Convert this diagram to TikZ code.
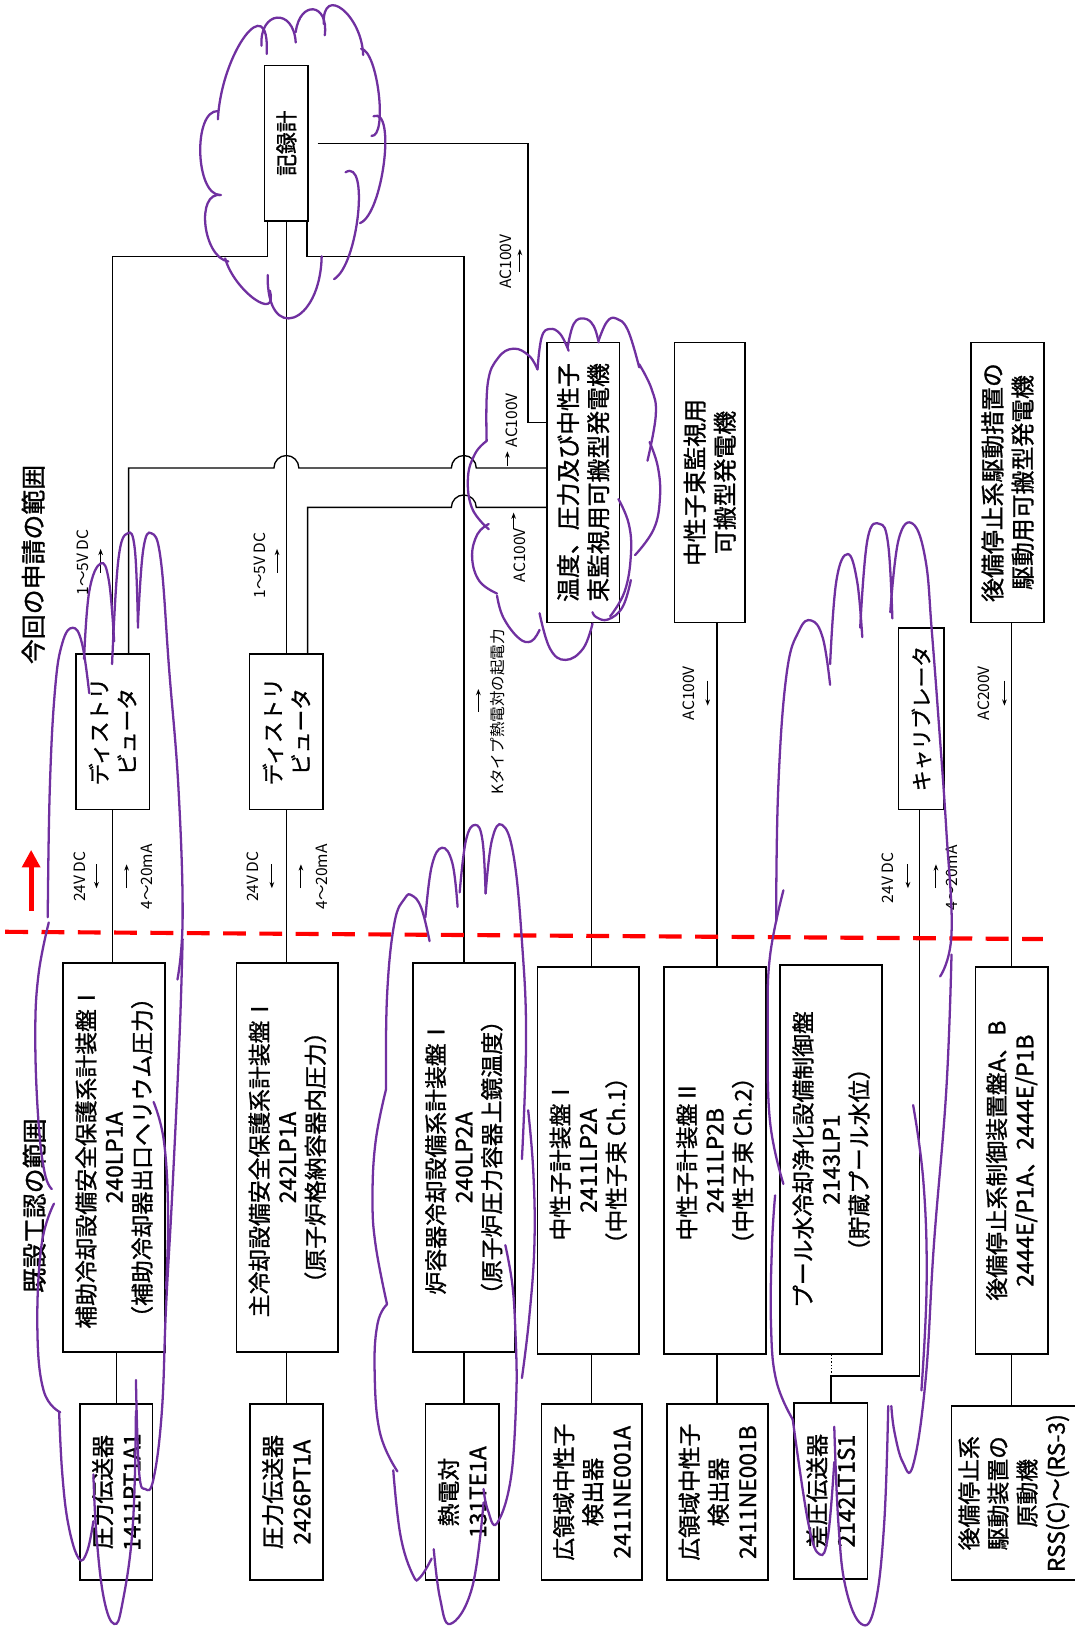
\documentclass[tikz,border=0pt]{standalone}
\usepackage{fontspec}
\setmainfont{Noto Sans CJK JP}
\newfontfamily\boxfont{Noto Sans CJK JP}[FakeBold=1.2]
\usetikzlibrary{arrows.meta,calc}
\definecolor{cloudpurple}{HTML}{7030A0}
\newcommand\bump[3]{\draw[cloudline] (#1) .. controls ($0.3333*(#1)+1.3333*(#2)-0.6667*(#3)$) and ($0.3333*(#3)+1.3333*(#2)-0.6667*(#1)$) .. (#3);}
\newcommand\cl[1]{\draw[cloudline] plot[smooth, tension=0.7] coordinates {#1};}
\begin{document}
\begin{tikzpicture}[x=1pt,y=-1pt,
  box/.style={draw, fill=white, line width=1.6pt, rotate=90, inner sep=2pt, outer sep=0pt, align=center},
  conn/.style={line width=1.3pt},
  cloudline/.style={draw=cloudpurple, line width=2.2pt, line cap=round},
  sarrow/.style={line width=1pt, -{Stealth[length=6pt,width=4.5pt]}},
  lbl/.style={rotate=90, font=\fontsize{15}{17}\selectfont, inner sep=0pt},
  pfont/.style={font=\boxfont\fontsize{22}{27}\selectfont},
  sfont/.style={font=\boxfont\fontsize{22}{28}\selectfont},
  gfont/.style={font=\boxfont\fontsize{23}{29}\selectfont},
]
\useasboundingbox (0,0) rectangle (1036,1568);
\clip (0,0) rectangle (1036,1568);
\fill[white] (0,0) rectangle (1036,1568);

% ---------- helper coordinates
\coordinate (bus) at (0,247);
\coordinate (g1in) at (527,407);
\coordinate (acv) at (509,0);
\coordinate (j6) at (801,1326);

% ---------- connectors (drawn first)
\draw[conn] (258,213) -- (258,247) -| (108.5,630);
\draw[conn] (276,213) -- (276,630);
\draw[conn] (296,213) -- (296,247) -| (447,928);
\draw[conn] (306,138) -| (509,407) -- (527,407);
\draw[conn] (124,630) -- (124,451) -- (264,451) arc[start angle=180,end angle=0,radius=12pt] -- (435,451) arc[start angle=180,end angle=0,radius=12pt] -- (527,451);
\draw[conn] (296.5,630) -- (296.5,489) -- (435,489) arc[start angle=180,end angle=0,radius=12pt] -- (527,489);
\draw[conn] (108.5,780) -- (108.5,928);
\draw[conn] (276,780) -- (276,928);
\draw[conn] (112,1303) -- (112,1353);
\draw[conn] (276,1303) -- (276,1353);
\draw[conn] (447,1303) -- (447,1353);
\draw[conn] (570,600) -- (570,932);
\draw[conn] (570,1305) -- (570,1353);
\draw[conn] (691,600) -- (691,932);
\draw[conn] (691,1305) -- (691,1353);
\draw[conn] (975,600) -- (975,932);
\draw[conn] (975,1305) -- (975,1355);
\draw[conn] (801,1352) -- (801,1326) -| (886,780);
\draw[line width=1.2pt, dotted] (801,1326) -- (801,1305);

% ---------- boxes
\node[box, minimum width=150pt, minimum height=42pt, font=\boxfont\fontsize{21}{26}\selectfont] (kiroku) at (276,138) {記録計};
\node[box, minimum width=150pt, minimum height=71pt, font=\boxfont\fontsize{21}{27}\selectfont] (dist1) at (108.5,705) {ディストリ\\ビュータ};
\node[box, minimum width=150pt, minimum height=71pt, font=\boxfont\fontsize{21}{27}\selectfont] (dist2) at (276,705) {ディストリ\\ビュータ};
\node[box, gfont, minimum width=270pt, minimum height=70pt] (gen1) at (562,465) {温度、圧力及び中性子\\束監視用可搬型発電機};
\node[box, gfont, minimum width=270pt, minimum height=68pt] (gen2) at (684,465) {中性子束監視用\\可搬型発電機};
\node[box, gfont, minimum width=270pt, minimum height=70pt] (gen3) at (971,465) {後備停止系駆動措置の\\駆動用可搬型発電機};
\node[box, minimum width=175pt, minimum height=44pt, font=\boxfont\fontsize{20}{24}\selectfont] (cal) at (888,692.5) {キャリブレータ};

\node[box, pfont, minimum width=375pt, minimum height=98pt] (p1) at (110,1115.5) {補助冷却設備安全保護系計装盤Ⅰ\\240LP1A\\（補助冷却器出口ヘリウム圧力）};
\node[box, pfont, minimum width=375pt, minimum height=98pt] (p2) at (277,1115.5) {主冷却設備安全保護系計装盤Ⅰ\\242LP1A\\（原子炉格納容器内圧力）};
\node[box, pfont, minimum width=375pt, minimum height=98pt] (p3) at (447,1115.5) {炉容器冷却設備系計装盤Ⅰ\\240LP2A\\（原子炉圧力容器上鏡温度）};
\node[box, pfont, minimum width=373pt, minimum height=98pt] (p4) at (567,1118.5) {中性子計装盤Ⅰ\\2411LP2A\\（中性子束 Ch.1）};
\node[box, pfont, minimum width=373pt, minimum height=98pt] (p5) at (689,1118.5) {中性子計装盤Ⅱ\\2411LP2B\\（中性子束 Ch.2）};
\node[box, pfont, minimum width=375pt, minimum height=98pt] (p6) at (801,1117.5) {プール水冷却浄化設備制御盤\\2143LP1\\（貯蔵プール水位）};
\node[box, pfont, minimum width=373pt, minimum height=70pt] (p7) at (975,1118.5) {後備停止系制御装置盤A、B\\2444E/P1A、2444E/P1B};

\node[box, sfont, minimum width=170pt, minimum height=70pt] (s1) at (112,1438) {圧力伝送器\\1411PT1A1};
\node[box, sfont, minimum width=170pt, minimum height=70pt] (s2) at (276,1438) {圧力伝送器\\2426PT1A};
\node[box, sfont, minimum width=170pt, minimum height=71pt] (s3) at (445.5,1438) {熱電対\\131TE1A};
\node[box, sfont, minimum width=170pt, minimum height=97pt] (s4) at (570.5,1438) {広領域中性子\\検出器\\2411NE001A};
\node[box, sfont, minimum width=170pt, minimum height=97pt] (s5) at (691.5,1438) {広領域中性子\\検出器\\2411NE001B};
\node[box, sfont, minimum width=170pt, minimum height=71pt] (s6) at (800.5,1437) {差圧伝送器\\2142LT1S1};
\node[box, sfont, minimum width=168pt, minimum height=120pt] (s7) at (977,1439) {後備停止系\\駆動装置の\\原動機\\RSS(C)〜(RS-3)};

% ---------- titles
\node[rotate=90, font=\boxfont\fontsize{24}{24}\selectfont] (t1) at (32,544) {今回の申請の範囲};
\node[rotate=90, font=\boxfont\fontsize{24}{24}\selectfont] (t2) at (33,1162) {既設工認の範囲};

% ---------- labels
\node[lbl] (l1) at (80,542) {1〜5V DC}; \draw[sarrow] (97,552) -- (97,529);
\node[lbl] (l2) at (250,545) {1〜5V DC}; \draw[sarrow] (267,552) -- (267,529);
\node[lbl] (l3) at (77,845) {24V DC}; \draw[sarrow] (93,833) -- (93,856);
\node[lbl] (l4) at (142,845) {4〜20mA}; \draw[sarrow] (122,856) -- (122,833);
\node[lbl] (l5) at (244,845) {24V DC}; \draw[sarrow] (262,833) -- (262,856);
\node[lbl] (l6) at (310,845) {4〜20mA}; \draw[sarrow] (290,856) -- (290,833);
\node[lbl] (l7) at (856,846) {24V DC}; \draw[sarrow] (875,833) -- (875,856);
\node[lbl] (l8) at (917,846) {4〜20mA}; \draw[sarrow] (902,856) -- (902,833);
\node[lbl] (l9) at (480,686) {Kタイプ熱電対の起電力}; \draw[sarrow] (461,686) -- (461,664);
\node[lbl] (l10) at (664,668) {AC100V}; \draw[sarrow] (682,656) -- (682,680);
\node[lbl] (l11) at (948,668) {AC200V}; \draw[sarrow] (968,656) -- (968,680);
\node[lbl] (l12) at (487,252) {AC100V}; \draw[sarrow] (501,262) -- (501,240);
\node[lbl] (l13) at (493,405) {AC100V}; \draw[sarrow] (489,449) -- (489,435);
\node[lbl] (l14) at (501,535) {AC100V}; \draw[sarrow] (495,510) -- (495,494);

% ---------- red boundary
\draw[red, line width=4pt, dash pattern=on 22pt off 13pt] (5,898) -- (1005,905);
\draw[red, line width=5pt, -{Triangle[length=17pt,width=17pt]}] (30,878) -- (30,819);

% ---------- clouds
% A: recorder
\bump{210,115}{236,35}{257,52}
\bump{252,44}{267,17}{285,41}
\bump{285,31}{302,9}{313,34}
\bump{312,23}{330,9}{350,53}
\bump{348,47}{365,90}{358,131}
\bump{360,112}{370,157}{347,215}
\bump{333,166}{345,207}{322,269}
\bump{310,247}{283,306}{258,265}
\bump{260,280}{245,288}{217,249}
\bump{220,252}{198,217}{213,188}
\bump{212,188}{193,147}{210,107}
% B: generator 1
\cl{(469,425) (470,370) (480,345) (495,336) (510,343) (518,356)}
\cl{(518,356) (522,325) (530,317) (540,322) (548,338)}
\cl{(547,335) (553,312) (563,307) (572,314) (577,330)}
\cl{(577,328) (585,310) (594,307) (605,318) (616,354)}
\cl{(616,351) (628,375) (632,400) (624,444)}
\cl{(626,426) (634,450) (636,480) (630,510) (612,535)}
\cl{(596,481) (606,505) (608,535) (602,570) (588,594)}
\cl{(608,559) (600,585) (586,597) (575,595) (571,590)}
\cl{(571,601) (562,625) (545,636) (530,625) (520,591)}
\cl{(520,607) (512,618) (500,615) (485,595) (479,574)}
\cl{(479,572) (462,560) (455,537) (460,515) (471,505)}
\cl{(471,510) (455,490) (451,460) (458,437) (469,425)}
% C: column 1
\cl{(46,884) (48,760) (53,665) (60,620) (70,605) (79,620) (86,668)}
\cl{(81,635) (86,570) (97,543) (105,560) (110,618)}
\cl{(108,640) (114,540) (123,514) (130,530) (133,605)}
\cl{(133,600) (138,530) (146,514) (155,540) (163,645) (172,760) (176,884) (171,944)}
\cl{(148,1062) (158,1100) (162,1170) (160,1242)}
\cl{(176,905) (173,1000) (166,1150) (160,1260) (156,1360) (148,1425) (140,1435) (134,1418) (131,1330)}
\cl{(131,1360) (128,1470) (118,1545) (110,1565) (100,1540) (93,1480) (90,1421)}
\cl{(90,1466) (84,1495) (76,1502) (66,1470) (60,1420) (57,1361)}
\cl{(52,1160) (40,1200) (36,1280) (42,1340) (58,1361)}
\cl{(47,889) (37,940) (34,1000) (37,1080) (43,1130) (50,1146)}
% D: column 3
\cl{(372,1050) (373,960) (380,890) (390,866) (397,863) (406,875) (414,907)}
\cl{(410,884) (416,835) (426,817) (436,832) (441,874)}
\cl{(443,860) (449,810) (458,795) (465,810) (468,861)}
\cl{(468,861) (474,810) (484,795) (495,825) (503,907) (507,1000) (503,1117)}
\cl{(509,1070) (514,1130) (515,1200) (510,1270) (503,1328)}
\cl{(487,1200) (494,1240) (497,1290) (498,1328)}
\cl{(498,1328) (493,1420) (479,1468) (470,1455) (466,1435)}
\cl{(466,1448) (455,1530) (434,1565) (424,1540) (418,1493)}
\cl{(416,1502) (405,1520) (398,1518) (386,1480) (379,1417)}
\cl{(383,1418) (366,1380) (361,1319) (364,1275) (373,1257)}
\cl{(373,1257) (362,1200) (359,1155) (362,1100) (372,1050)}
% E: column 6
\cl{(748,888) (750,760) (758,650) (770,608) (782,598) (793,615) (800,660)}
\cl{(800,640) (806,560) (817,534) (826,560) (831,614)}
\cl{(829,605) (836,520) (848,505) (856,525) (860,596)}
\cl{(858,590) (866,520) (880,505) (892,540) (898,608) (905,700) (912,800) (917,900) (906,941)}
\cl{(880,1065) (890,1140) (893,1238) (888,1340)}
\cl{(917,920) (912,1050) (900,1200) (892,1330) (880,1412) (870,1409) (862,1380) (859,1355)}
\cl{(856,1355) (852,1470) (843,1548) (830,1565) (815,1530) (808,1468) (804,1375)}
\cl{(804,1409) (798,1480) (790,1498) (779,1468) (764,1368)}
\cl{(764,1368) (748,1330) (743,1275) (744,1200) (747,1152)}
\cl{(755,1141) (742,1080) (740,990) (742,922) (755,858)}
\end{tikzpicture}
\end{document}
